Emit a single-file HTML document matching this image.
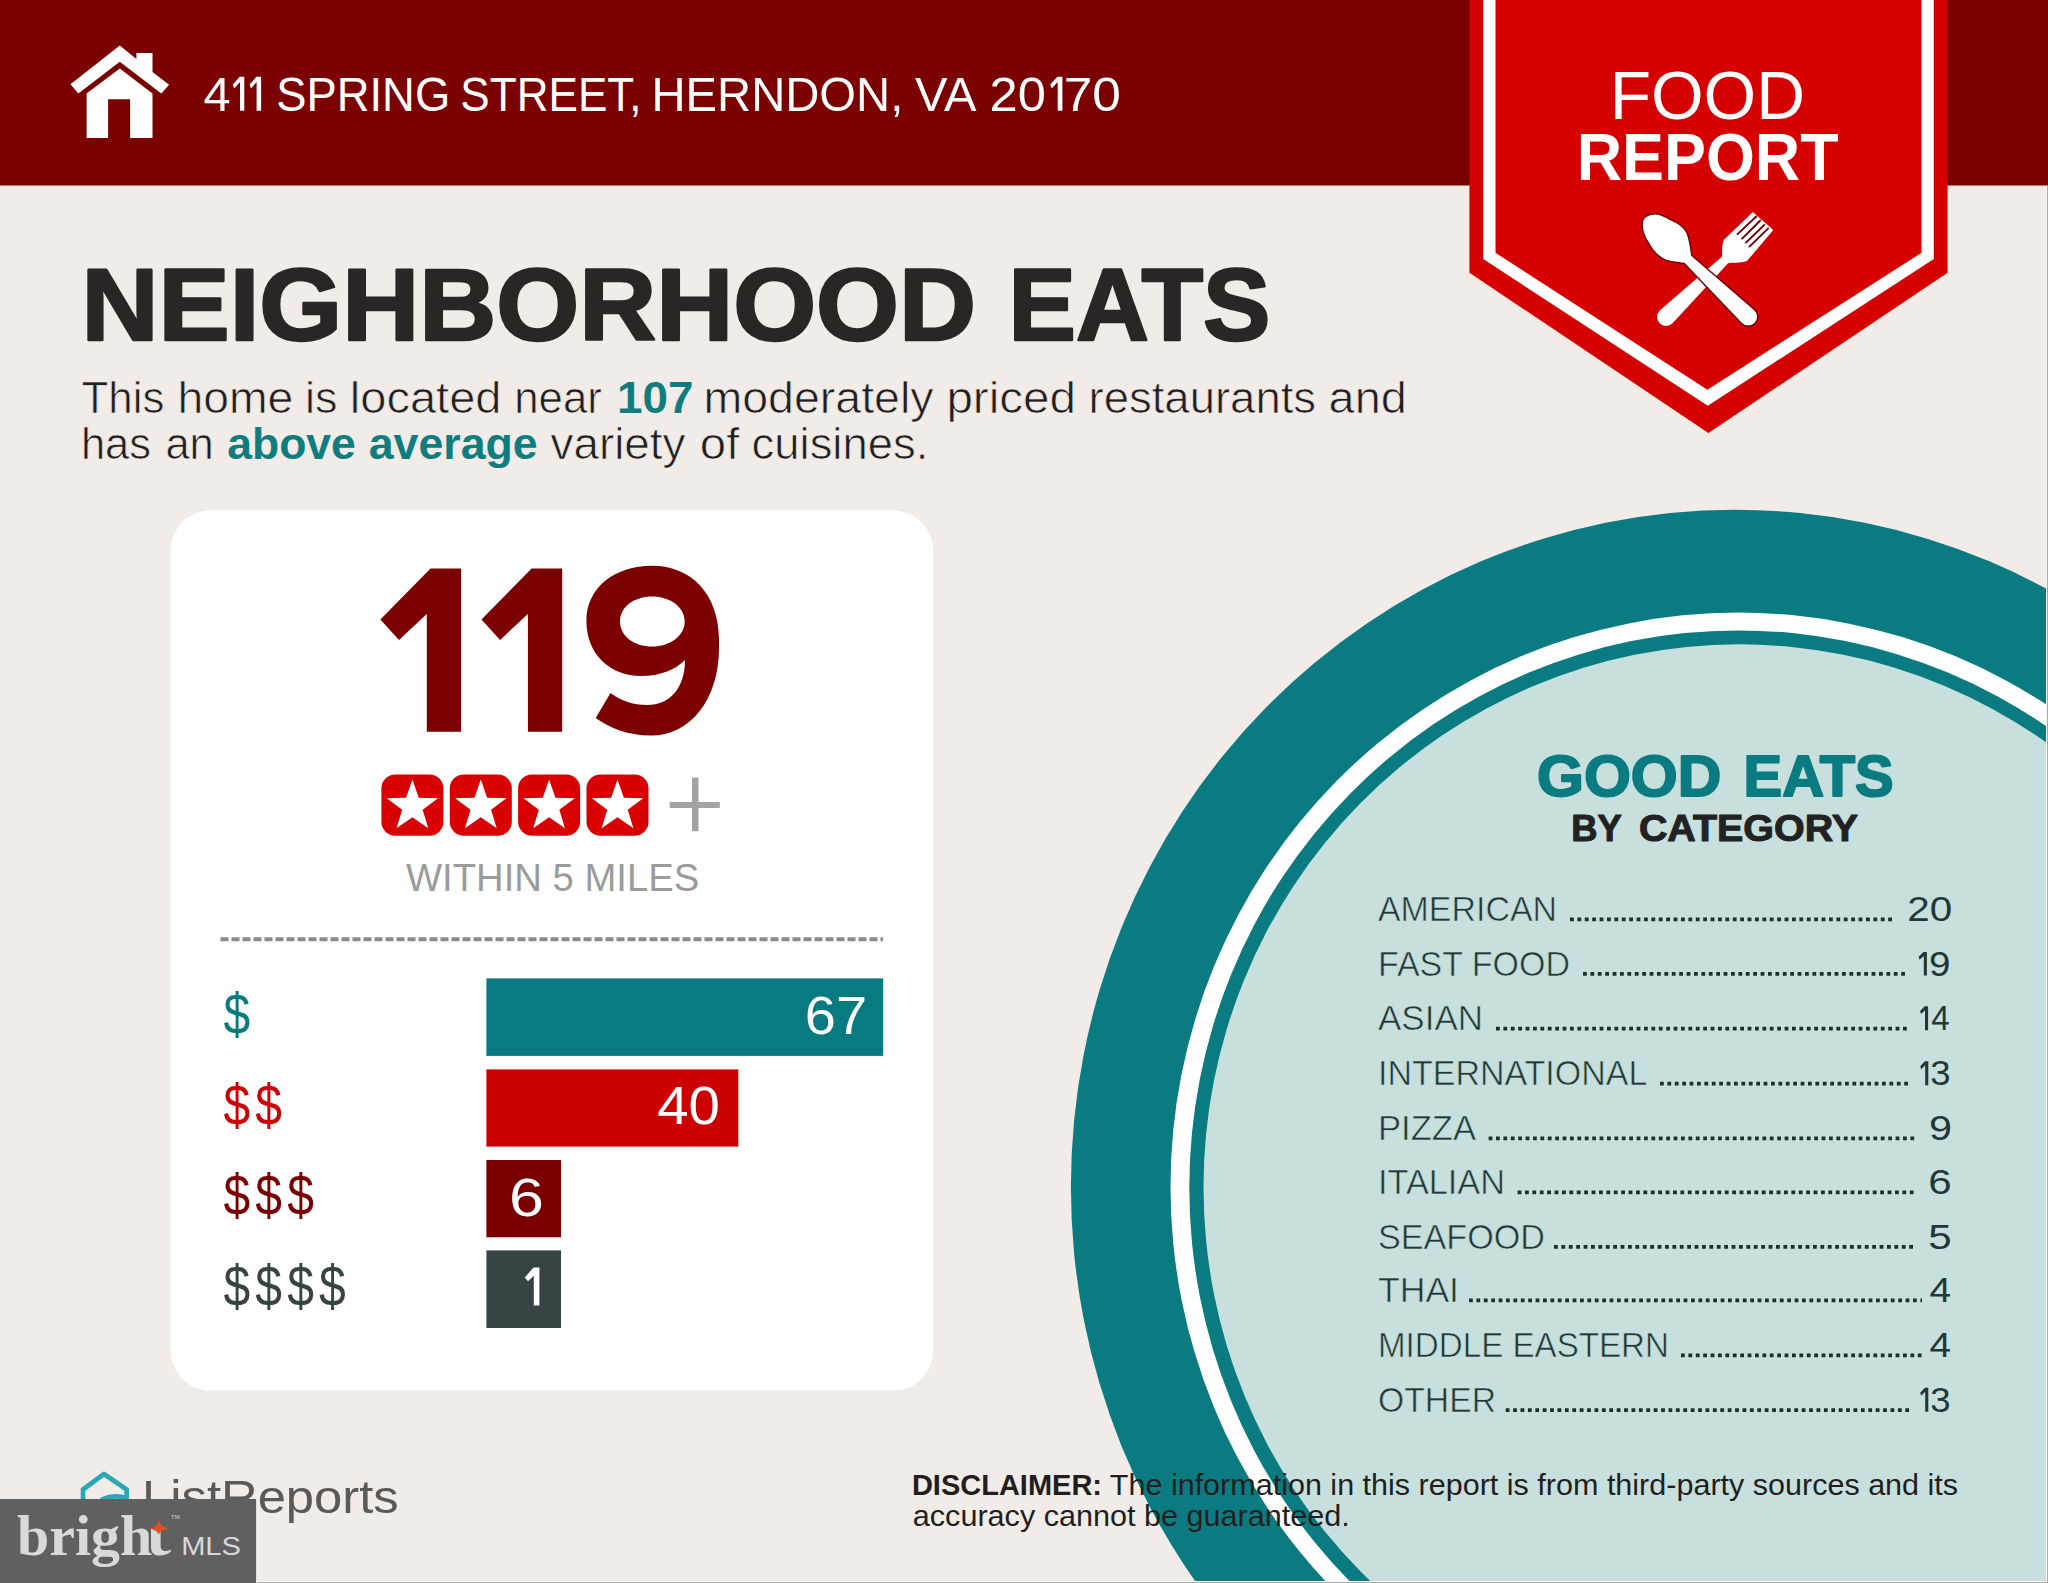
<!DOCTYPE html>
<html>
<head>
<meta charset="utf-8">
<style>
html,body{margin:0;padding:0;width:2048px;height:1583px;overflow:hidden;background:#f1ece8;}
svg{display:block;}
text{font-family:"Liberation Sans",sans-serif;}
</style>
</head>
<body>
<svg width="2048" height="1583" viewBox="0 0 2048 1583">
<defs>
  <polygon id="star" points="0.00,-27.00 6.35,-8.74 25.68,-8.34 10.27,3.34 15.87,21.84 0.00,10.80 -15.87,21.84 -10.27,3.34 -25.68,-8.34 -6.35,-8.74"/>
</defs>
<!-- background -->
<rect x="0" y="0" width="2048" height="1583" fill="#f1ece8"/>

<!-- big teal circle -->
<ellipse cx="1735.2" cy="1186.8" rx="664.3" ry="677" fill="#0a7b80"/>
<ellipse cx="1738.3" cy="1186.9" rx="567.8" ry="574.3" fill="#ffffff"/>
<ellipse cx="1738.4" cy="1187.7" rx="549.1" ry="557.3" fill="#0a7b80"/>
<ellipse cx="1739.1" cy="1187.3" rx="535.6" ry="543" fill="#c8e0dd"/>

<!-- header band -->
<rect x="0" y="0" width="2048" height="185.5" fill="#7b0000"/>

<!-- house icon -->
<g fill="#ffffff">
  <polygon points="119.8,45.6 136.4,59 136.4,53 152.5,53 152.5,72 169.1,84.7 161.3,93.5 119.8,61.7 78.3,93.5 70.5,84.2"/>
  <polygon points="119.8,68.6 152.5,93.5 152.5,137.9 130.1,137.9 130.1,99.3 108.1,99.3 108.1,137.9 86.6,137.9 86.6,93.5"/>
</g>
<text x="203.4" y="110.6" font-size="49" fill="#ffffff" textLength="27.1" lengthAdjust="spacingAndGlyphs">4</text>
<path fill="#ffffff" d="M232.8,84.6 L239.7,76.8 L244.3,76.8 L244.3,110.8 L240.0,110.8 L240.0,82.0 L234.2,88.6 Z M249.6,84.6 L256.3,76.8 L261.1,76.8 L261.1,110.8 L256.6,110.8 L256.6,82.0 L251.0,88.6 Z"/>
<text x="276.2" y="110.6" font-size="49" fill="#ffffff" textLength="174.0" lengthAdjust="spacingAndGlyphs">SPRING</text>
<text x="460.3" y="110.6" font-size="49" fill="#ffffff" textLength="181.3" lengthAdjust="spacingAndGlyphs">STREET,</text>
<text x="651.5" y="110.6" font-size="49" fill="#ffffff" textLength="251.8" lengthAdjust="spacingAndGlyphs">HERNDON,</text>
<text x="915.0" y="110.6" font-size="49" fill="#ffffff" textLength="61.4" lengthAdjust="spacingAndGlyphs">VA</text>
<text x="989.6" y="110.6" font-size="49" fill="#ffffff" textLength="56.4" lengthAdjust="spacingAndGlyphs">20</text>
<path fill="#ffffff" d="M1050.3,84.5 L1057.4,76.8 L1062.4,76.8 L1062.4,110.8 L1057.7,110.8 L1057.7,82.0 L1051.7,88.5 Z"/>
<text x="1063.7" y="110.6" font-size="49" fill="#ffffff" textLength="57.1" lengthAdjust="spacingAndGlyphs">70</text>

<!-- food report banner -->
<polygon points="1469.4,0 1947.6,0 1947.6,272.7 1708.4,433.1 1469.4,272.7" fill="#d50000"/>
<polygon points="1483.2,0 1933.8,0 1933.8,259 1707.8,405.7 1483.2,259" fill="#ffffff"/>
<polygon points="1495.5,0 1921.5,0 1921.5,252.8 1707.4,389.7 1495.5,252.8" fill="#d50000"/>
<text x="1609.7" y="118.8" font-size="68" fill="#ffffff" textLength="195.4" lengthAdjust="spacingAndGlyphs">FOOD</text>
<text x="1576.7" y="180.4" font-size="67" font-weight="bold" fill="#ffffff" textLength="262" lengthAdjust="spacingAndGlyphs">REPORT</text>

<!-- spoon & fork -->
<g fill="#ffffff">
  <!-- fork head + handle -->
  <path d="M1722.2,254.6 C1722,250 1722,244 1723.9,239.8 L1752.9,211.9 L1773.3,230.1 L1747.2,260.8 C1743,263 1735,262.5 1729.6,263.1 L1728.1,263.2 L1672.3,323.5 L1659.7,310.5 L1721.9,256.8 Z"/>
  <circle cx="1666" cy="317" r="9"/>
</g>
<g stroke="#6b0008" stroke-width="1.9" stroke-linecap="round">
  <line x1="1737.5" y1="234.1" x2="1756.3" y2="216.5"/>
  <line x1="1742.1" y1="238.7" x2="1760.3" y2="220.5"/>
  <line x1="1746" y1="242.6" x2="1764.2" y2="225"/>
  <line x1="1749.5" y1="246.6" x2="1768.2" y2="228.4"/>
</g>
<g fill="#ffffff" stroke="#6b0008" stroke-width="1.4">
  <!-- spoon -->
  <path d="M1691.8,255.5 C1690.5,247 1690,240 1687,233 C1683,225 1676,222 1670.4,219.6 C1664,216 1660,213.5 1654.9,213.8 C1647,214 1642,218 1642.1,224 C1642,232 1645,238 1648.3,242.6 C1652,250 1658,257 1666,260.3 C1672,262 1678,262.5 1684.2,263.5 L1741.3,323.2 A9.5,9.5 0 1 0 1754.3,309.4 Z"/>
</g>

<!-- title -->
<text x="81.6" y="340.25" font-size="102.8" font-weight="bold" fill="#2b2525" stroke="#2b2525" stroke-width="2.5" stroke-linejoin="round" textLength="894.4" lengthAdjust="spacingAndGlyphs">NEIGHBORHOOD</text>
<text x="1008.6" y="340.25" font-size="102.8" font-weight="bold" fill="#2b2525" stroke="#2b2525" stroke-width="2.5" stroke-linejoin="round" textLength="261.9" lengthAdjust="spacingAndGlyphs">EATS</text>
<!-- paragraph -->
<text x="81.5" y="413" font-size="43.6" fill="#221e1e" stroke="#f1ece8" stroke-width="0.7" textLength="82.9" lengthAdjust="spacingAndGlyphs">This</text>
<text x="177.4" y="413" font-size="43.6" fill="#221e1e" stroke="#f1ece8" stroke-width="0.7" textLength="116.0" lengthAdjust="spacingAndGlyphs">home</text>
<text x="304.9" y="413" font-size="43.6" fill="#221e1e" stroke="#f1ece8" stroke-width="0.7" textLength="32.5" lengthAdjust="spacingAndGlyphs">is</text>
<text x="349.8" y="413" font-size="43.6" fill="#221e1e" stroke="#f1ece8" stroke-width="0.7" textLength="151.7" lengthAdjust="spacingAndGlyphs">located</text>
<text x="514.2" y="413" font-size="43.6" fill="#221e1e" stroke="#f1ece8" stroke-width="0.7" textLength="87.7" lengthAdjust="spacingAndGlyphs">near</text>
<text x="617.1" y="413" font-size="43.6" font-weight="bold" fill="#0f7d80" textLength="76.4" lengthAdjust="spacingAndGlyphs">107</text>
<text x="703.4" y="413" font-size="43.6" fill="#221e1e" stroke="#f1ece8" stroke-width="0.7" textLength="230.2" lengthAdjust="spacingAndGlyphs">moderately</text>
<text x="946.4" y="413" font-size="43.6" fill="#221e1e" stroke="#f1ece8" stroke-width="0.7" textLength="129.6" lengthAdjust="spacingAndGlyphs">priced</text>
<text x="1088.5" y="413" font-size="43.6" fill="#221e1e" stroke="#f1ece8" stroke-width="0.7" textLength="227.6" lengthAdjust="spacingAndGlyphs">restaurants</text>
<text x="1328.6" y="413" font-size="43.6" fill="#221e1e" stroke="#f1ece8" stroke-width="0.7" textLength="78.1" lengthAdjust="spacingAndGlyphs">and</text>
<text x="80.9" y="459" font-size="43.6" fill="#221e1e" stroke="#f1ece8" stroke-width="0.7" textLength="70.2" lengthAdjust="spacingAndGlyphs">has</text>
<text x="165.4" y="459" font-size="43.6" fill="#221e1e" stroke="#f1ece8" stroke-width="0.7" textLength="48.4" lengthAdjust="spacingAndGlyphs">an</text>
<text x="227.2" y="459" font-size="43.6" font-weight="bold" fill="#0f7d80" textLength="128.7" lengthAdjust="spacingAndGlyphs">above</text>
<text x="368.7" y="459" font-size="43.6" font-weight="bold" fill="#0f7d80" textLength="169.0" lengthAdjust="spacingAndGlyphs">average</text>
<text x="550.6" y="459" font-size="43.6" fill="#221e1e" stroke="#f1ece8" stroke-width="0.7" textLength="134.8" lengthAdjust="spacingAndGlyphs">variety</text>
<text x="699.8" y="459" font-size="43.6" fill="#221e1e" stroke="#f1ece8" stroke-width="0.7" textLength="39.5" lengthAdjust="spacingAndGlyphs">of</text>
<text x="751.6" y="459" font-size="43.6" fill="#221e1e" stroke="#f1ece8" stroke-width="0.7" textLength="176.7" lengthAdjust="spacingAndGlyphs">cuisines.</text>

<!-- white card -->
<rect x="170.5" y="510.5" width="762.7" height="880" rx="40" ry="40" fill="#ffffff"/>

<!-- 119 -->
<g fill="#7d0000">
  <polygon points="430.5,568.6 461.1,568.6 461.1,731.8 426.8,731.8 426.8,614 399,640 380.4,619.6"/>
  <polygon points="531.6,568.6 562.2,568.6 562.2,731.8 527.9,731.8 527.9,614 500.1,640 481.5,619.6"/>
  <path fill-rule="evenodd" d="M652.5,565.8 C691,565.8 719,594 719,640 L719,648 C719,700 690,735.6 651,735.6 C627,735.6 608,727 595.7,718 L610.5,692.9 C620,700 633,705 647,705 C670,705 685,688 685,660 C675,670 660,676 641,676 C610,676 586.4,654 586.4,621 C586.4,588 614,565.8 652.5,565.8 Z M652,596.4 C634,596.4 620,607 620,621.5 C620,636 634,646.5 652,646.5 C670,646.5 684.7,636 684.7,621.5 C684.7,607 670,596.4 652,596.4 Z"/>
</g>

<!-- stars -->
<g>
  <rect x="381.4" y="774.4" width="62" height="61.4" rx="14" fill="#d80000"/>
  <rect x="449.8" y="774.4" width="62" height="61.4" rx="14" fill="#d80000"/>
  <rect x="518.1" y="774.4" width="62" height="61.4" rx="14" fill="#d80000"/>
  <rect x="586.5" y="774.4" width="62" height="61.4" rx="14" fill="#d80000"/>
  <use href="#star" x="412.4" y="806.5" fill="#ffffff"/>
  <use href="#star" x="480.8" y="806.5" fill="#ffffff"/>
  <use href="#star" x="549.1" y="806.5" fill="#ffffff"/>
  <use href="#star" x="617.5" y="806.5" fill="#ffffff"/>
</g>
<rect x="669.7" y="802" width="50.1" height="6" fill="#a3a3a3"/>
<rect x="692" y="777.6" width="6.5" height="53.6" fill="#a3a3a3"/>
<text x="406" y="891" font-size="38.4" fill="#9b9b9b" textLength="293.2" lengthAdjust="spacingAndGlyphs">WITHIN 5 MILES</text>

<!-- dashed line -->
<line x1="220.5" y1="939.2" x2="883" y2="939.2" stroke="#8a8a8a" stroke-width="4" stroke-dasharray="8 3"/>

<!-- bars -->
<rect x="486.4" y="978.4" width="396.8" height="77.5" fill="#077b80"/>
<rect x="486.4" y="1069.4" width="251.9" height="77.2" fill="#cc0000"/>
<rect x="486.4" y="1160" width="74.6" height="77.3" fill="#7a0000"/>
<rect x="486.4" y="1250.4" width="74.6" height="77.6" fill="#384343"/>
<g font-size="54" fill="#ffffff" lengthAdjust="spacingAndGlyphs">
  <text x="804.8" y="1033.8" textLength="62.3" lengthAdjust="spacingAndGlyphs">67</text>
  <text x="657.2" y="1124" textLength="62.7" lengthAdjust="spacingAndGlyphs">40</text>
  <text x="509.1" y="1215.5" textLength="34.9" lengthAdjust="spacingAndGlyphs">6</text>
</g>
<polygon points="533.5,1267.4 539.4,1267.4 539.4,1305.6 533.8,1305.6 533.8,1275.8 528,1281.3 524.8,1277.6" fill="#ffffff"/>
<g font-size="56.5">
  <text transform="translate(223.4,1033.7) scale(0.85,1)" fill="#077b80">$</text>
  <text transform="translate(223.4,1125.3) scale(0.85,1)" fill="#cc0000">$</text>
  <text transform="translate(255.3,1125.3) scale(0.85,1)" fill="#cc0000">$</text>
  <text transform="translate(223.4,1215) scale(0.85,1)" fill="#7a0000">$</text>
  <text transform="translate(255.3,1215) scale(0.85,1)" fill="#7a0000">$</text>
  <text transform="translate(287.2,1215) scale(0.85,1)" fill="#7a0000">$</text>
  <text transform="translate(223.4,1306) scale(0.85,1)" fill="#384343">$</text>
  <text transform="translate(255.3,1306) scale(0.85,1)" fill="#384343">$</text>
  <text transform="translate(287.2,1306) scale(0.85,1)" fill="#384343">$</text>
  <text transform="translate(319.1,1306) scale(0.85,1)" fill="#384343">$</text>
</g>

<!-- good eats -->
<text x="1537.0" y="796.1" font-size="58" font-weight="bold" fill="#0a7b80" stroke="#0a7b80" stroke-width="2" stroke-linejoin="round" textLength="184.3" lengthAdjust="spacingAndGlyphs">GOOD</text>
<text x="1743.6" y="796.1" font-size="58" font-weight="bold" fill="#0a7b80" stroke="#0a7b80" stroke-width="2" stroke-linejoin="round" textLength="150.1" lengthAdjust="spacingAndGlyphs">EATS</text>
<text x="1571.3" y="840.5" font-size="36" font-weight="bold" fill="#222222" stroke="#222222" stroke-width="1" stroke-linejoin="round" textLength="50.6" lengthAdjust="spacingAndGlyphs">BY</text>
<text x="1638.9" y="840.5" font-size="36" font-weight="bold" fill="#222222" stroke="#222222" stroke-width="1" stroke-linejoin="round" textLength="219.1" lengthAdjust="spacingAndGlyphs">CATEGORY</text>

<g font-size="35" fill="#223737" stroke="#c8e0dd" stroke-width="0.6">
  <text x="1378" y="921" textLength="179" lengthAdjust="spacingAndGlyphs">AMERICAN</text>
  <text x="1378" y="975.5" textLength="192" lengthAdjust="spacingAndGlyphs">FAST FOOD</text>
  <text x="1378" y="1030.2" textLength="105" lengthAdjust="spacingAndGlyphs">ASIAN</text>
  <text x="1378" y="1085.3" textLength="269.3" lengthAdjust="spacingAndGlyphs">INTERNATIONAL</text>
  <text x="1378" y="1139.9" textLength="98" lengthAdjust="spacingAndGlyphs">PIZZA</text>
  <text x="1378" y="1194" textLength="127" lengthAdjust="spacingAndGlyphs">ITALIAN</text>
  <text x="1378" y="1248.5" textLength="167" lengthAdjust="spacingAndGlyphs">SEAFOOD</text>
  <text x="1378" y="1302" textLength="81" lengthAdjust="spacingAndGlyphs">THAI</text>
  <text x="1378" y="1357" textLength="291" lengthAdjust="spacingAndGlyphs">MIDDLE EASTERN</text>
  <text x="1378" y="1411.8" textLength="118" lengthAdjust="spacingAndGlyphs">OTHER</text>
</g>
<g font-size="35" fill="#223737">
  <text x="1907.2" y="921" textLength="44.9" lengthAdjust="spacingAndGlyphs">20</text>
  <text x="1928.9" y="975.5" textLength="21.5" lengthAdjust="spacingAndGlyphs">9</text>
  <text x="1931.3" y="1030.2" textLength="18.4" lengthAdjust="spacingAndGlyphs">4</text>
  <text x="1930.3" y="1085.3" textLength="20.3" lengthAdjust="spacingAndGlyphs">3</text>
  <text x="1929" y="1139.9" textLength="23" lengthAdjust="spacingAndGlyphs">9</text>
  <text x="1928.2" y="1194" textLength="23.4" lengthAdjust="spacingAndGlyphs">6</text>
  <text x="1928.2" y="1248.5" textLength="23.4" lengthAdjust="spacingAndGlyphs">5</text>
  <text x="1929.5" y="1302" textLength="21.6" lengthAdjust="spacingAndGlyphs">4</text>
  <text x="1929.5" y="1357" textLength="21.6" lengthAdjust="spacingAndGlyphs">4</text>
  <text x="1930.3" y="1411.8" textLength="20.3" lengthAdjust="spacingAndGlyphs">3</text>
</g>
<path fill="#223737" d="M1918.6,956.8 L1923.5,952.1 L1926.9,952.1 L1926.9,975.5 L1923.8,975.5 L1923.8,956.0 L1919.6,959.8 Z M1920.1,1011.1 L1924.7,1006.3 L1928.1,1006.3 L1928.1,1030.2 L1925.0,1030.2 L1925.0,1010.2 L1921.1,1014.1 Z M1920.2,1066.2 L1924.9,1061.3 L1928.3,1061.3 L1928.3,1085.3 L1925.2,1085.3 L1925.2,1065.2 L1921.2,1069.2 Z M1920.2,1392.8 L1924.9,1387.8 L1928.3,1387.8 L1928.3,1411.8 L1925.2,1411.8 L1925.2,1391.7 L1921.2,1395.8 Z"/>
<g stroke="#1c2e2e" stroke-width="3.8" stroke-dasharray="3.8 3.6">
  <line x1="1570" y1="919.4" x2="1894" y2="919.4"/>
  <line x1="1583" y1="973.9" x2="1907.5" y2="973.9"/>
  <line x1="1496" y1="1028.6" x2="1910" y2="1028.6"/>
  <line x1="1660" y1="1083.7" x2="1910" y2="1083.7"/>
  <line x1="1488.6" y1="1138.3" x2="1916.5" y2="1138.3"/>
  <line x1="1517.6" y1="1192.4" x2="1916.5" y2="1192.4"/>
  <line x1="1554" y1="1246.9" x2="1916.5" y2="1246.9"/>
  <line x1="1469" y1="1300.4" x2="1922" y2="1300.4"/>
  <line x1="1681" y1="1355.4" x2="1922" y2="1355.4"/>
  <line x1="1505.7" y1="1410.2" x2="1910" y2="1410.2"/>
</g>

<!-- disclaimer -->
<text x="911.9" y="1495.2" font-size="28.8" font-weight="bold" fill="#221e1e" textLength="190.1" lengthAdjust="spacingAndGlyphs">DISCLAIMER:</text>
<text x="1109.8" y="1495.2" font-size="28.8" fill="#221e1e" textLength="848.3" lengthAdjust="spacingAndGlyphs">The information in this report is from third-party sources and its</text>
<text x="912.8" y="1526" font-size="28.8" fill="#221e1e" textLength="437.0" lengthAdjust="spacingAndGlyphs">accuracy cannot be guaranteed.</text>

<!-- ListReports logo -->
<path d="M83,1500 L83,1489.5 L104,1474 L126.6,1489.5 L126.6,1500" fill="none" stroke="#2aa7b5" stroke-width="4.7" stroke-linejoin="round"/>
<path d="M101,1500 Q113,1494 126,1498" fill="none" stroke="#2aa7b5" stroke-width="4.7"/>
<text x="142.1" y="1512.8" font-size="47" fill="#595959" textLength="256.5" lengthAdjust="spacingAndGlyphs">ListReports</text>

<!-- bright MLS box -->
<rect x="0" y="1499" width="256.4" height="84" fill="#606060"/>
<text x="17" y="1555.4" font-size="58" font-weight="bold" fill="#d9d9d9" style="font-family:'Liberation Serif',serif">brigh</text>
<path d="M151,1528 L160.6,1528 L160.6,1546 C160.6,1549.5 162.5,1551 165,1551 C167,1551 169,1550.5 170.7,1549.5 L171,1551.5 C168,1554 164,1555.6 159.5,1555.6 C154,1555.6 151,1552.5 151,1547 Z" fill="#d9d9d9"/>
<path d="M158.7,1519.8 Q160,1527.5 169.5,1528.7 Q160,1530 158.7,1534.4 Q157.4,1530 149,1528.7 Q157.4,1527.5 158.7,1519.8 Z" fill="#e0512b"/>
<text x="171" y="1518.5" font-size="6" fill="#d9d9d9">TM</text>
<text x="181.2" y="1554.7" font-size="26.7" fill="#d9d9d9" textLength="59.7" lengthAdjust="spacingAndGlyphs">MLS</text>

<!-- borders -->
<rect x="256.4" y="1581" width="1791.6" height="1" fill="#fbf8f5"/>
<rect x="256.4" y="1582" width="1791.6" height="1" fill="#a9a9a7"/>
<rect x="256.4" y="1499" width="1" height="84" fill="#fbf8f5"/>
<rect x="2046" y="186" width="1" height="1396" fill="#fbf8f5"/>
<rect x="2047" y="186" width="1" height="1397" fill="#a9a9a7"/>
</svg>
</body>
</html>
